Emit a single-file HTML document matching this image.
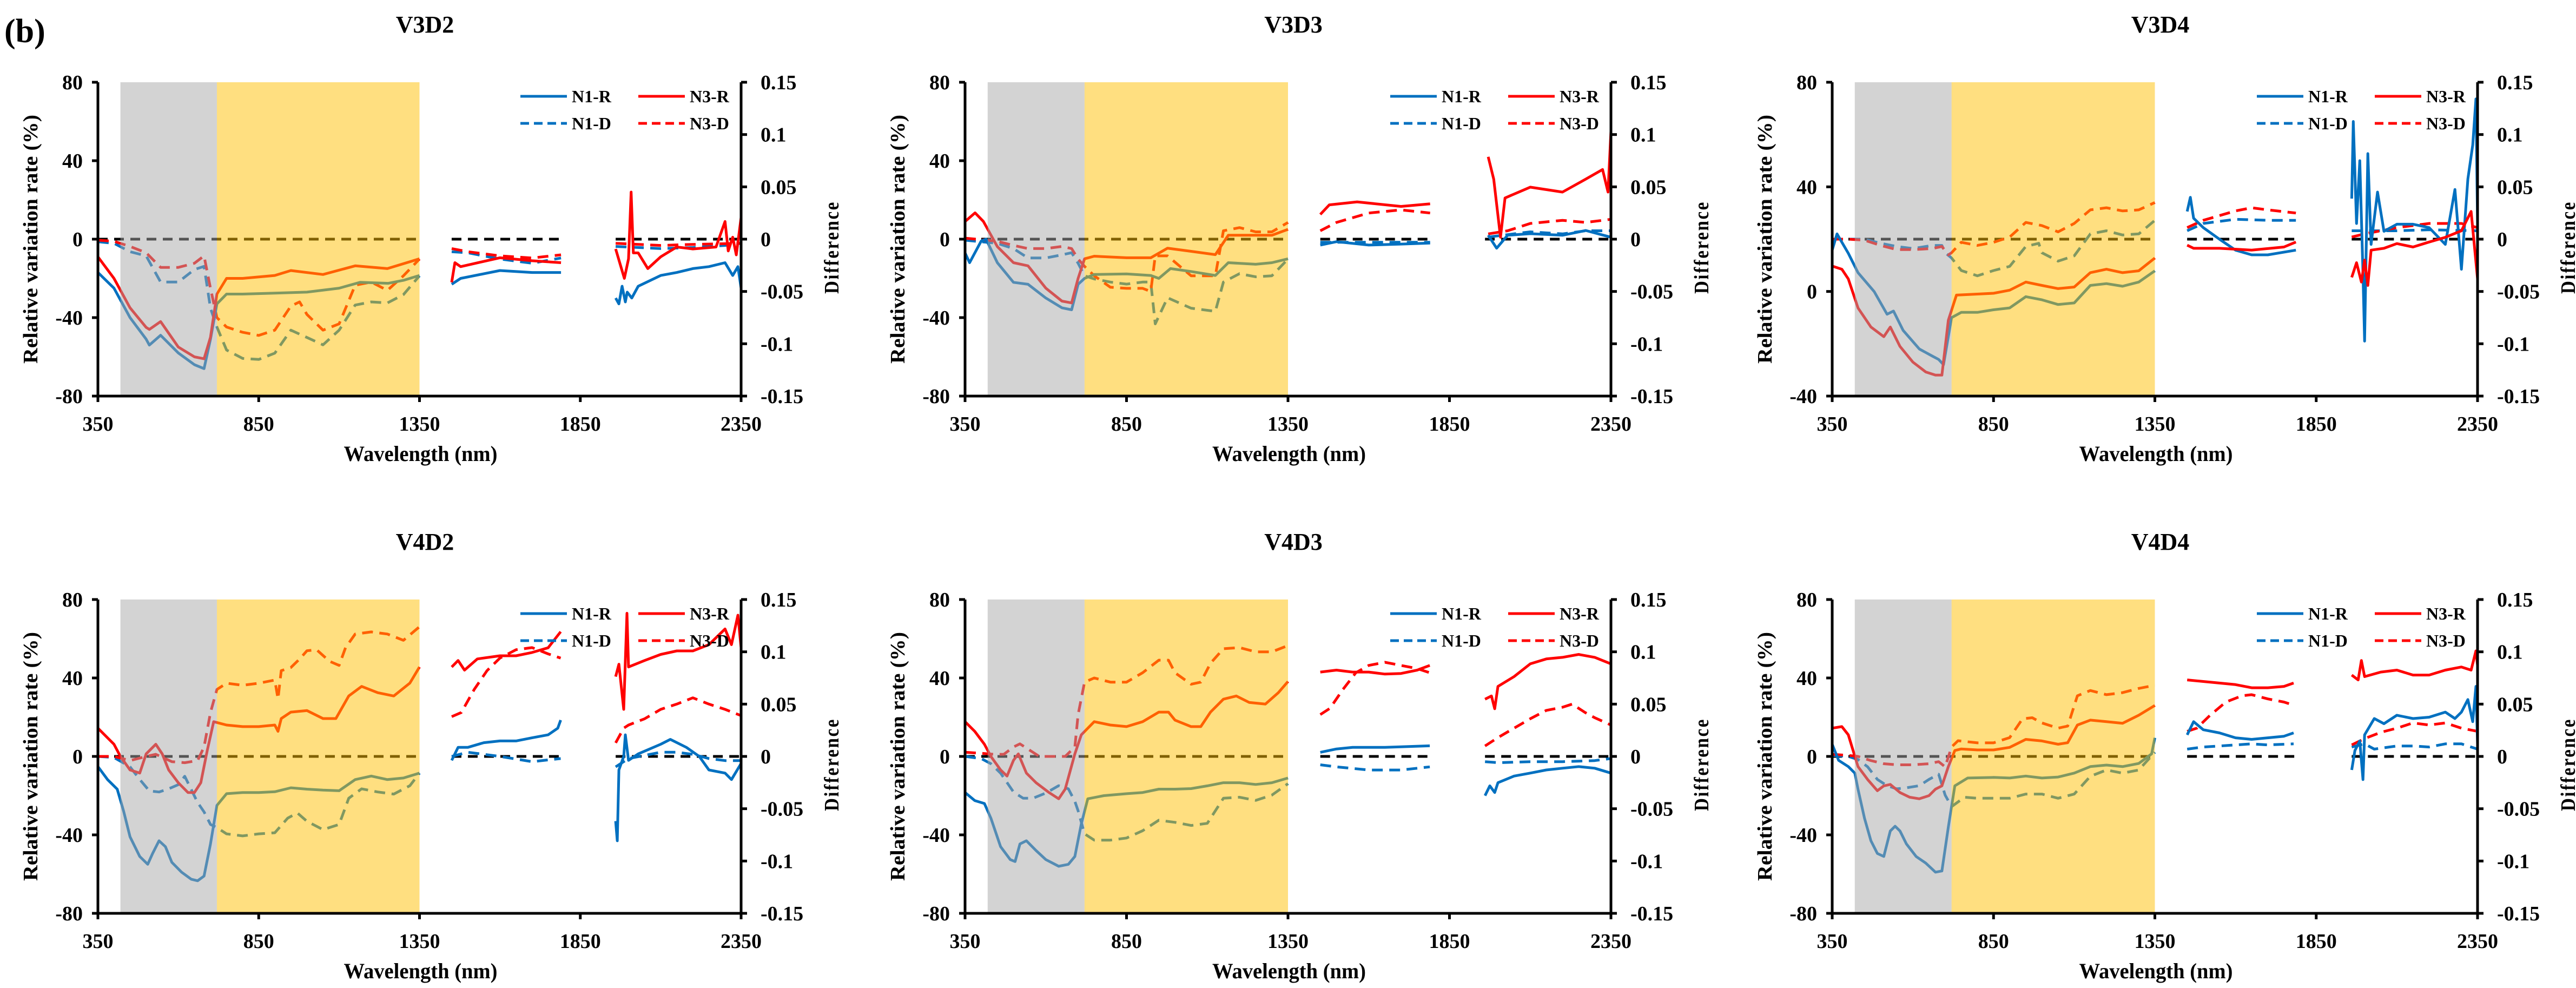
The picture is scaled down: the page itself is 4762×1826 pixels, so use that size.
<!DOCTYPE html>
<html><head><meta charset="utf-8">
<style>
html,body{margin:0;padding:0;background:#fff;}
svg{display:block;font-family:"Liberation Serif",serif;font-weight:bold;}
</style></head>
<body>
<svg id="fig" width="4762" height="1826" viewBox="0 0 4762 1826" xmlns="http://www.w3.org/2000/svg">
<text x="8" y="78" font-size="62">(b)</text>
</svg>
<script>
// ---- Data (wavelength nm, value); null = spectral gap. R in %, D in difference units ----
const xTicks = [350, 850, 1350, 1850, 2350];
const rTicksStd = [80, 40, 0, -40, -80];
const rTicksV3D4 = [80, 40, 0, -40];
const dTicks = [0.15, 0.1, 0.05, 0, -0.05, -0.1, -0.15];
const dTickLabels = ['0.15', '0.1', '0.05', '0', '-0.05', '-0.1', '-0.15'];
const zeroSegments = [[350, 1350], [1450, 1785], [1960, 2350]];
const grayBand = [420, 720];
const yellowBand = [720, 1350];
const panelNames = ['V3D2', 'V3D3', 'V3D4', 'V4D2', 'V4D3', 'V4D4'];

const V3D2_N1R = [[350,-17],[400,-25],[450,-40],[500,-51],[510,-54],[545,-49],[600,-58],[650,-64],[680,-66],[700,-51],[720,-33],[750,-28],[800,-28],[900,-27.5],[1000,-27],[1100,-25],[1165,-22],[1253,-22.5],[1300,-21],[1350,-18.5],null,[1450,-23],[1478,-20],[1600,-16],[1700,-17],[1790,-17],null,[1960,-30],[1970,-33],[1980,-24],[1990,-32],[1996,-27],[2010,-30],[2030,-24],[2100,-18.5],[2150,-17],[2200,-15],[2250,-14],[2300,-12],[2324,-18.5],[2340,-14],[2350,-25]];
const V3D2_N3R = [[350,-9],[400,-20],[450,-35],[500,-45],[510,-46],[545,-42],[600,-55],[650,-60],[680,-61],[700,-50],[720,-28],[750,-20],[800,-20],[900,-18.5],[950,-16],[1050,-18],[1150,-13.6],[1250,-15],[1350,-10],null,[1450,-22],[1460,-12],[1478,-14],[1600,-9.5],[1700,-11],[1790,-12],null,[1960,-5],[1987,-20],[2000,-10],[2008,24],[2015,-7],[2030,-7],[2060,-15],[2100,-9],[2150,-4],[2200,-5],[2272,-4],[2300,9],[2310,-6],[2324,1],[2335,-8],[2350,11]];
const V3D2_N1D = [[350,-0.0025],[400,-0.004],[450,-0.012],[500,-0.016],[545,-0.041],[600,-0.041],[650,-0.029],[680,-0.026],[700,-0.066],[720,-0.084],[750,-0.106],[800,-0.114],[850,-0.115],[900,-0.109],[950,-0.087],[1000,-0.094],[1050,-0.101],[1100,-0.087],[1150,-0.063],[1200,-0.06],[1250,-0.061],[1300,-0.053],[1350,-0.035],null,[1450,-0.012],[1500,-0.013],[1600,-0.019],[1700,-0.023],[1790,-0.018],null,[1960,-0.007],[2100,-0.009],[2200,-0.008],[2300,-0.006],[2350,-0.004]];
const V3D2_N3D = [[350,-0.001],[400,-0.002],[450,-0.007],[500,-0.013],[545,-0.027],[600,-0.027],[650,-0.023],[680,-0.016],[700,-0.047],[720,-0.075],[750,-0.084],[800,-0.089],[850,-0.092],[900,-0.087],[950,-0.064],[977,-0.06],[1000,-0.072],[1050,-0.087],[1100,-0.081],[1150,-0.044],[1200,-0.041],[1250,-0.049],[1300,-0.035],[1350,-0.019],null,[1450,-0.009],[1500,-0.012],[1600,-0.016],[1700,-0.018],[1790,-0.015],null,[1960,-0.004],[2100,-0.006],[2200,-0.005],[2350,-0.004]];

const V3D3_N1R = [[350,-7],[364,-12],[400,-1],[415,0],[450,-12],[500,-22],[545,-23],[600,-30],[650,-35],[680,-36],[700,-23],[720,-20],[750,-18],[850,-17.7],[925,-18.5],[950,-20],[986,-15],[1050,-16.5],[1125,-18.5],[1165,-12],[1250,-12.8],[1300,-12],[1350,-10],null,[1450,-3],[1500,-1.3],[1600,-3],[1700,-2.5],[1790,-2],null,[1970,2],[1996,-4.6],[2030,2],[2100,2.8],[2200,2],[2272,4.4],[2350,1]];
const V3D3_N3R = [[350,9],[381,13.4],[407,9],[450,-3.8],[500,-12],[545,-13.6],[600,-25],[650,-31.6],[680,-32.5],[700,-20],[720,-10],[750,-8.7],[850,-9.5],[925,-9.5],[977,-4.6],[1050,-6.2],[1125,-7.9],[1165,2],[1250,2],[1300,2],[1350,5],null,[1450,12.6],[1478,17.5],[1564,19],[1700,16.7],[1790,18],null,[1970,42],[1987,30.6],[2008,1],[2022,21],[2100,26.5],[2200,24],[2272,30.6],[2324,35.5],[2341,24],[2350,55]];
const V3D3_N1D = [[350,-0.001],[450,-0.004],[500,-0.009],[545,-0.018],[600,-0.018],[650,-0.015],[680,-0.013],[700,-0.023],[720,-0.035],[750,-0.038],[800,-0.041],[850,-0.043],[900,-0.041],[925,-0.041],[939,-0.081],[977,-0.056],[1050,-0.066],[1125,-0.069],[1150,-0.041],[1200,-0.033],[1250,-0.036],[1300,-0.035],[1350,-0.019],null,[1450,-0.003],[1790,-0.003],null,[1970,0.002],[2100,0.007],[2200,0.005],[2272,0.008],[2350,0.008]];
const V3D3_N3D = [[350,0.001],[450,-0.002],[500,-0.006],[545,-0.009],[600,-0.009],[650,-0.007],[680,-0.009],[700,-0.019],[720,-0.026],[750,-0.035],[800,-0.046],[850,-0.047],[900,-0.047],[925,-0.05],[939,-0.016],[977,-0.016],[1050,-0.035],[1125,-0.035],[1150,0.008],[1200,0.011],[1250,0.007],[1300,0.007],[1350,0.016],null,[1450,0.008],[1500,0.016],[1600,0.025],[1700,0.028],[1790,0.025],null,[1970,0.005],[2030,0.008],[2100,0.015],[2200,0.018],[2272,0.016],[2350,0.019]];

const V3D4_N1R = [[350,15.8],[365,22],[400,14.6],[430,7.2],[480,0],[520,-8.7],[540,-7.5],[570,-14.9],[620,-22],[660,-24.7],[680,-26],[695,-28],[720,-10],[750,-8],[800,-8],[850,-7],[900,-6.3],[950,-2],[1000,-3.2],[1050,-5],[1100,-4.4],[1150,2.3],[1200,3],[1250,2],[1300,3.6],[1350,7.9],null,[1450,30.6],[1460,36],[1470,28],[1500,24.4],[1550,20],[1600,15.8],[1650,14],[1700,14],[1787,15.8],null,[1960,35.5],[1965,65],[1975,26],[1985,50],[1995,7],[2000,-19],[2010,52.7],[2020,18],[2040,38],[2060,23],[2100,25.7],[2150,25.7],[2200,24.4],[2250,18],[2280,39],[2300,8.5],[2320,43],[2335,56],[2345,73.6],[2350,25.7]];
const V3D4_N3R = [[350,9.7],[380,8.5],[400,4.8],[430,-6.3],[470,-13.6],[510,-17.3],[530,-13.6],[560,-21],[600,-27],[640,-30.8],[670,-32],[690,-32],[710,-11],[735,-1.4],[800,-1],[850,-0.7],[900,0.5],[950,3.6],[1000,2.3],[1050,1.1],[1100,1.7],[1150,7.2],[1200,8.5],[1250,7.2],[1300,7.9],[1350,12.8],null,[1450,17.7],[1470,16.5],[1550,16.5],[1650,15.8],[1750,17],[1787,18.9],null,[1960,5.4],[1975,11],[1990,3.6],[2000,12],[2010,2.3],[2020,15.8],[2060,16.5],[2100,18.3],[2150,17],[2200,18.9],[2250,20.7],[2300,23.2],[2330,30.6],[2350,4.8]];
const V3D4_N1D = [[350,0],[400,0],[450,0],[500,-0.004],[550,-0.007],[600,-0.009],[660,-0.006],[690,-0.006],[700,-0.013],[720,-0.018],[750,-0.03],[800,-0.035],[850,-0.03],[900,-0.026],[950,-0.007],[990,-0.004],[1000,-0.013],[1050,-0.021],[1100,-0.016],[1150,0.005],[1200,0.008],[1250,0.004],[1300,0.005],[1350,0.018],null,[1450,0.008],[1500,0.015],[1600,0.019],[1700,0.018],[1787,0.018],null,[1960,0.008],[2100,0.008],[2200,0.009],[2350,0.008]];
const V3D4_N3D = [[350,0],[400,0],[450,-0.001],[500,-0.006],[550,-0.01],[600,-0.01],[660,-0.009],[690,-0.007],[710,-0.015],[720,-0.013],[750,-0.003],[800,-0.006],[850,-0.003],[900,0.002],[950,0.016],[1000,0.013],[1050,0.007],[1100,0.015],[1150,0.028],[1200,0.03],[1250,0.027],[1300,0.028],[1350,0.035],null,[1450,0.011],[1500,0.018],[1600,0.027],[1650,0.03],[1700,0.028],[1787,0.025],null,[1960,0.002],[2000,0.005],[2100,0.011],[2200,0.015],[2300,0.015],[2350,0.011]];

const V4D2_N1R = [[350,-5.2],[380,-11.8],[410,-16.7],[430,-28],[450,-41],[480,-51],[505,-55],[520,-49.5],[540,-43],[560,-46],[580,-54],[610,-59],[640,-62.6],[660,-63.4],[680,-61],[700,-44.6],[720,-25],[750,-19],[800,-18.4],[850,-18.4],[900,-18],[950,-16],[1000,-16.7],[1050,-17.2],[1100,-17.5],[1150,-11.8],[1200,-10],[1250,-11.8],[1300,-11],[1350,-8.5],null,[1450,-2],[1470,4.6],[1500,4.6],[1550,7],[1600,7.9],[1650,7.9],[1700,9.5],[1750,11],[1780,14.4],[1789,18.5],null,[1960,-33],[1965,-43],[1970,-6.9],[1985,0],[1990,11],[2000,-2],[2030,1.3],[2100,6.2],[2130,8.7],[2180,4.6],[2220,0],[2250,-6.9],[2300,-8.5],[2320,-11.8],[2350,-3.6]];
const V4D2_N3R = [[350,14.4],[380,9.5],[400,6.2],[420,0],[450,-6.9],[480,-8.5],[500,1.3],[530,6.2],[550,1.3],[570,-6.9],[600,-13.4],[630,-18.4],[650,-18.4],[670,-13.4],[690,3],[710,17.7],[750,16],[800,15.2],[850,15.2],[900,16],[910,12.8],[920,19.3],[950,22.6],[1000,23.4],[1050,19.3],[1090,19.3],[1130,30.8],[1170,35.7],[1220,32.5],[1270,30.8],[1320,37.4],[1350,45.6],null,[1450,45.6],[1470,48.9],[1490,44],[1530,49.7],[1600,51.3],[1650,51.3],[1700,53],[1750,55.4],[1789,63.6],null,[1960,40.7],[1970,47],[1985,24],[1995,73],[2000,45.6],[2050,48.9],[2100,52],[2150,53.8],[2200,53.8],[2250,57],[2300,65],[2320,57],[2340,72],[2350,55.4]];
const V4D2_N1D = [[350,0],[400,-0.001],[450,-0.01],[480,-0.022],[510,-0.033],[540,-0.034],[570,-0.031],[600,-0.027],[620,-0.019],[660,-0.044],[680,-0.053],[700,-0.065],[720,-0.068],[750,-0.074],[800,-0.076],[850,-0.074],[900,-0.073],[940,-0.059],[970,-0.054],[1000,-0.062],[1050,-0.07],[1100,-0.065],[1130,-0.04],[1170,-0.031],[1220,-0.034],[1270,-0.036],[1320,-0.028],[1350,-0.016],null,[1450,0],[1500,0.004],[1600,0],[1700,-0.005],[1789,-0.002],null,[1960,-0.01],[2000,-0.002],[2100,0.004],[2150,0.004],[2200,0.002],[2250,-0.002],[2300,-0.004],[2350,-0.004]];
const V4D2_N3D = [[350,0],[400,0],[450,-0.004],[500,0],[530,0.002],[580,-0.005],[620,-0.006],[660,-0.004],[680,0.009],[700,0.042],[720,0.064],[750,0.07],[800,0.068],[850,0.07],[900,0.073],[910,0.055],[920,0.082],[950,0.085],[980,0.094],[1000,0.101],[1030,0.102],[1070,0.091],[1100,0.087],[1120,0.104],[1150,0.117],[1200,0.119],[1250,0.117],[1300,0.111],[1350,0.124],null,[1450,0.038],[1480,0.042],[1520,0.064],[1560,0.082],[1600,0.094],[1650,0.102],[1700,0.104],[1750,0.098],[1789,0.094],null,[1960,0.013],[1985,0.027],[2000,0.03],[2050,0.036],[2100,0.045],[2150,0.05],[2200,0.056],[2250,0.05],[2300,0.045],[2350,0.039]];

const V4D3_N1R = [[350,-18.4],[380,-22.5],[410,-24],[430,-31.5],[460,-46],[490,-52.6],[505,-53.6],[520,-44.6],[540,-43],[570,-48],[600,-52.6],[640,-56],[670,-55],[690,-51],[710,-34.4],[730,-21.6],[780,-20],[850,-19],[900,-18.4],[950,-16.7],[1000,-16.7],[1050,-16.4],[1100,-15],[1150,-13.4],[1200,-13.4],[1250,-14.3],[1300,-13.4],[1350,-11],null,[1450,2.1],[1500,3.8],[1550,4.6],[1650,4.6],[1789,5.4],null,[1960,-20],[1975,-15],[1990,-18.4],[2000,-13.4],[2050,-10],[2100,-8.5],[2150,-6.9],[2200,-6],[2250,-5.2],[2300,-6],[2350,-8.5]];
const V4D3_N3R = [[350,17.7],[380,12.8],[410,6.2],[430,0],[460,-6.9],[480,-10],[500,-2],[515,1.3],[540,-8.5],[570,-13.4],[610,-18.4],[640,-21.6],[660,-16.7],[690,1.3],[710,11],[750,17.7],[800,16],[850,15.2],[900,17.7],[950,22.6],[980,22.6],[1000,18.5],[1050,15.2],[1080,15.2],[1110,22.6],[1150,29.2],[1190,30.8],[1230,27.5],[1280,26.7],[1320,32.5],[1350,38.2],null,[1450,43],[1500,44],[1550,43],[1600,43],[1650,42],[1700,42.3],[1750,44],[1789,46.4],null,[1960,29.2],[1980,30.8],[1990,24.3],[2000,35.7],[2050,40.7],[2100,47.2],[2150,49.7],[2200,50.5],[2250,52],[2300,50.5],[2350,47.2]];
const V4D3_N1D = [[350,0],[400,-0.002],[430,-0.007],[460,-0.016],[500,-0.034],[530,-0.04],[560,-0.04],[600,-0.035],[640,-0.028],[670,-0.031],[690,-0.043],[700,-0.052],[720,-0.074],[750,-0.08],[800,-0.08],[850,-0.078],[900,-0.071],[950,-0.061],[1000,-0.063],[1050,-0.066],[1100,-0.064],[1150,-0.04],[1200,-0.039],[1250,-0.042],[1300,-0.037],[1350,-0.026],null,[1450,-0.008],[1500,-0.01],[1600,-0.013],[1700,-0.013],[1789,-0.01],null,[1960,-0.005],[2000,-0.006],[2100,-0.005],[2200,-0.005],[2300,-0.004],[2350,-0.002]];
const V4D3_N3D = [[350,0.004],[400,0.003],[440,0.002],[470,0.002],[500,0.009],[520,0.012],[550,0.006],[580,0],[620,0],[660,0],[690,0.009],[700,0.04],[720,0.071],[750,0.075],[800,0.071],[850,0.071],[900,0.08],[950,0.092],[980,0.092],[1000,0.08],[1050,0.069],[1080,0.071],[1110,0.089],[1150,0.103],[1200,0.104],[1250,0.1],[1300,0.1],[1350,0.106],null,[1450,0.04],[1480,0.046],[1520,0.064],[1560,0.08],[1600,0.087],[1650,0.09],[1700,0.087],[1750,0.084],[1789,0.08],null,[1960,0.01],[2000,0.018],[2050,0.027],[2100,0.036],[2150,0.044],[2200,0.047],[2230,0.05],[2270,0.042],[2300,0.037],[2350,0.03]];

const V4D4_N1R = [[350,6.2],[370,-2],[400,-5.2],[420,-8.5],[430,-16.7],[450,-31.5],[470,-43],[490,-49.5],[510,-51],[530,-38],[545,-35.6],[560,-38],[580,-44.6],[610,-51],[640,-54.4],[670,-59],[690,-58.4],[710,-36],[730,-15],[770,-11],[850,-10.7],[900,-11],[950,-10],[1000,-11],[1050,-10.5],[1100,-8.5],[1150,-5.2],[1200,-4.4],[1250,-5.2],[1300,-3.6],[1340,1.3],[1350,9.5],null,[1450,11],[1470,17.7],[1500,13.6],[1550,12],[1600,9.5],[1650,8.7],[1700,9.5],[1750,10.3],[1780,12],null,[1960,-6.9],[1970,3],[1985,7.9],[1995,-11.8],[2000,11],[2030,19.3],[2060,16.7],[2100,21],[2150,19.3],[2200,20],[2250,22.6],[2280,19.3],[2300,22.6],[2320,29],[2335,17.7],[2345,35.7],[2350,6.2]];
const V4D4_N3R = [[350,14.4],[380,15.2],[400,11],[430,-5.2],[460,-11.8],[490,-17.5],[510,-15],[530,-14.3],[560,-18.4],[590,-20.8],[620,-21.6],[650,-20],[670,-16.7],[690,-15],[710,-5.2],[730,3],[750,3.8],[800,3.3],[850,3.3],[900,4.6],[950,8.7],[1000,7.9],[1050,6.2],[1080,7],[1110,16],[1150,18.5],[1200,17.7],[1250,16.9],[1300,21],[1350,26],null,[1450,39],[1500,38.2],[1550,37.4],[1600,36.6],[1650,35],[1700,35],[1750,35.7],[1780,37.4],null,[1960,41.5],[1980,39],[1990,48.9],[2000,40.7],[2050,43],[2100,44],[2150,41.5],[2200,41.5],[2250,44],[2300,45.6],[2330,44],[2345,53.8],[2350,46.4]];
const V4D4_N1D = [[350,0.001],[400,0],[430,-0.003],[460,-0.01],[490,-0.022],[520,-0.028],[550,-0.031],[580,-0.03],[620,-0.028],[650,-0.022],[680,-0.017],[700,-0.037],[720,-0.048],[760,-0.039],[800,-0.04],[850,-0.04],[900,-0.04],[950,-0.036],[1000,-0.036],[1050,-0.04],[1100,-0.036],[1150,-0.019],[1200,-0.013],[1250,-0.016],[1300,-0.013],[1350,0.004],null,[1450,0.007],[1500,0.009],[1550,0.01],[1650,0.012],[1700,0.011],[1780,0.012],null,[1960,0.009],[2000,0.012],[2030,0.007],[2100,0.01],[2150,0.01],[2200,0.009],[2250,0.012],[2300,0.012],[2350,0.007]];
const V4D4_N3D = [[350,0.002],[400,0.001],[430,0],[470,-0.004],[510,-0.007],[550,-0.008],[600,-0.008],[650,-0.007],[680,-0.005],[700,-0.01],[720,0.009],[740,0.015],[800,0.013],[850,0.013],[900,0.018],[940,0.036],[970,0.037],[1000,0.032],[1050,0.027],[1080,0.029],[1110,0.058],[1150,0.063],[1200,0.059],[1250,0.061],[1300,0.065],[1350,0.068],null,[1450,0.024],[1480,0.027],[1520,0.039],[1570,0.052],[1620,0.058],[1650,0.059],[1700,0.055],[1750,0.052],[1780,0.049],null,[1960,0.011],[2000,0.017],[2050,0.023],[2100,0.027],[2150,0.032],[2200,0.03],[2250,0.032],[2300,0.027],[2350,0.024]];

const seriesByPanel = {
  V3D2: [V3D2_N1R, V3D2_N3R, V3D2_N1D, V3D2_N3D],
  V3D3: [V3D3_N1R, V3D3_N3R, V3D3_N1D, V3D3_N3D],
  V3D4: [V3D4_N1R, V3D4_N3R, V3D4_N1D, V3D4_N3D],
  V4D2: [V4D2_N1R, V4D2_N3R, V4D2_N1D, V4D2_N3D],
  V4D3: [V4D3_N1R, V4D3_N3R, V4D3_N1D, V4D3_N3D],
  V4D4: [V4D4_N1R, V4D4_N3R, V4D4_N1D, V4D4_N3D]
};

// ---- Layout ----
const colX = [[181, 1370], [1784, 2978], [3387, 4580]];
const rowY = [[152, 732, 45], [1108, 1688, 1001]];
const NS = 'http://www.w3.org/2000/svg';
const svg = document.getElementById('fig');
function mk(tag, attrs, parent) {
  const e = document.createElementNS(NS, tag);
  for (const k in attrs) e.setAttribute(k, attrs[k]);
  (parent || svg).appendChild(e);
  return e;
}
const BLUE = '#0070C0', RED = '#FF0000';

panelNames.forEach((name, idx) => {
  const [x0, x1] = colX[idx % 3];
  const [yTop, yBot, yTitle] = rowY[Math.floor(idx / 3)];
  const isV3D4 = name === 'V3D4';
  const ymin = isV3D4 ? -40 : -80, ymax = 80;
  const rTicks = isV3D4 ? rTicksV3D4 : rTicksStd;
  const xs = w => x0 + (w - 350) / 2000 * (x1 - x0);
  const yl = v => yBot - (v - ymin) / (ymax - ymin) * (yBot - yTop);
  const yr = d => yBot - (d + 0.15) / 0.3 * (yBot - yTop);

  const g = mk('g', {});
  
  

  const t = mk('text', {x: (x0 + x1) / 2 + 10, y: yTitle + 15, 'font-size': 44, 'text-anchor': 'middle'}, g);
  t.textContent = name;
  
  

  zeroSegments.forEach(s => {
    const l = mk('line', {x1: xs(s[0]), x2: xs(s[1]), y1: yr(0), y2: yr(0), stroke: '#000', 'stroke-width': 5, 'stroke-dasharray': '18 12'}, g);
    
    
  });

  const [n1r, n3r, n1d, n3d] = seriesByPanel[name];
  const defs = [
    [n1d, BLUE, true, 'n1-d-line'], [n3d, RED, true, 'n3-d-line'],
    [n1r, BLUE, false, 'n1-r-line'], [n3r, RED, false, 'n3-r-line']
  ];
  defs.forEach(([data, col, dashed, nm]) => {
    let d = '', start = true;
    data.forEach(p => {
      if (p === null) { start = true; return; }
      const y = dashed ? yr(p[1]) : yl(p[1]);
      d += (start ? 'M' : 'L') + xs(p[0]).toFixed(1) + ' ' + y.toFixed(1) + ' ';
      start = false;
    });
    const path = mk('path', {d: d, fill: 'none', stroke: col, 'stroke-width': 5, 'stroke-linejoin': 'round', 'stroke-dasharray': dashed ? '20 12' : 'none'}, g);
    
    
  });

  const gr = mk('rect', {x: xs(grayBand[0]), y: yTop, width: xs(grayBand[1]) - xs(grayBand[0]), height: yBot - yTop, fill: 'rgb(167,167,167)', 'fill-opacity': 0.5}, g);
  
  
  const yw = mk('rect', {x: xs(yellowBand[0]), y: yTop, width: xs(yellowBand[1]) - xs(yellowBand[0]), height: yBot - yTop, fill: 'rgb(255,191,1)', 'fill-opacity': 0.5}, g);
  
  

  const ax = mk('path', {d: `M${x0} ${yTop} L${x0} ${yBot} L${x1} ${yBot} L${x1} ${yTop}`, fill: 'none', stroke: '#000', 'stroke-width': 5}, g);
  
  
  rTicks.forEach(v => {
    mk('line', {x1: x0 - 11, x2: x0, y1: yl(v), y2: yl(v), stroke: '#000', 'stroke-width': 5}, g);
    const tl = mk('text', {x: x0 - 28, y: yl(v) + 13, 'font-size': 38, 'text-anchor': 'end'}, g);
    tl.textContent = String(v);
    
    
  });
  dTicks.forEach((v, i) => {
    mk('line', {x1: x1, x2: x1 + 11, y1: yr(v), y2: yr(v), stroke: '#000', 'stroke-width': 5}, g);
    const tl = mk('text', {x: x1 + 36, y: yr(v) + 13, 'font-size': 38}, g);
    tl.textContent = dTickLabels[i];
    
    
  });
  xTicks.forEach(v => {
    mk('line', {x1: xs(v), x2: xs(v), y1: yBot, y2: yBot + 11, stroke: '#000', 'stroke-width': 5}, g);
    const tl = mk('text', {x: xs(v), y: yBot + 64, 'font-size': 38, 'text-anchor': 'middle'}, g);
    tl.textContent = String(v);
    
    
  });

  const xt = mk('text', {x: (x0 + x1) / 2 + 2, y: yBot + 120, 'font-size': 40, 'text-anchor': 'middle', textLength: 284, lengthAdjust: 'spacingAndGlyphs'}, g);
  xt.textContent = 'Wavelength (nm)';
  
  
  const ymid = (yTop + yBot) / 2;
  const lt = mk('text', {x: 0, y: 0, 'font-size': 38, 'text-anchor': 'middle', textLength: 460, lengthAdjust: 'spacingAndGlyphs', transform: `translate(${x0 - 112},${ymid}) rotate(-90)`}, g);
  lt.textContent = 'Relative variation  rate (%)';
  
  
  const rt = mk('text', {x: 0, y: 0, 'font-size': 38, 'text-anchor': 'middle', textLength: 172, lengthAdjust: 'spacingAndGlyphs', 'letter-spacing': 3, transform: `translate(${x1 + 180},${ymid + 15}) rotate(-90)`}, g);
  rt.textContent = 'Difference';
  
  

  const legend = [['N1-R', BLUE, false, -408, 0], ['N3-R', RED, false, -190, 0], ['N1-D', BLUE, true, -408, 50], ['N3-D', RED, true, -190, 50]];
  legend.forEach(([lab, col, dashed, dx, dy]) => {
    const ly = yTop + 26 + dy;
    const ln = mk('line', {x1: x1 + dx, x2: x1 + dx + 86, y1: ly, y2: ly, stroke: col, 'stroke-width': 5, 'stroke-dasharray': dashed ? '16 9' : 'none'}, g);
    
    
    const lt2 = mk('text', {x: x1 + dx + 95, y: ly + 11, 'font-size': 32}, g);
    lt2.textContent = lab;
    
    
  });
});
</script>
</body></html>
